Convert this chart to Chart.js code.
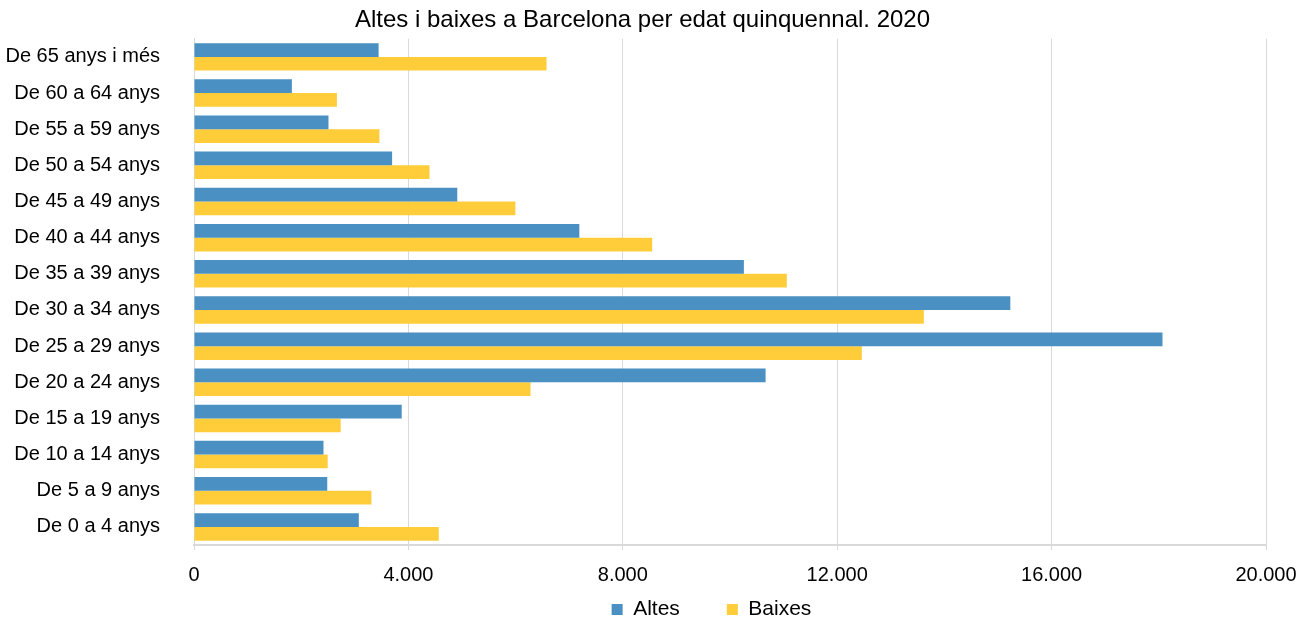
<!DOCTYPE html>
<html>
<head>
<meta charset="utf-8">
<script src="https://cdn.jsdelivr.net/npm/chart.js@4.4.1/dist/chart.umd.min.js"></script>
<style>
html,body{margin:0;padding:0;background:#fff;}
#wrap{width:1315px;height:618px;position:relative;}
</style>
</head>
<body>
<div id="wrap"><canvas id="c"></canvas></div>
<script>
const categories = ["De 65 anys i més","De 60 a 64 anys","De 55 a 59 anys","De 50 a 54 anys","De 45 a 49 anys","De 40 a 44 anys","De 35 a 39 anys","De 30 a 34 anys","De 25 a 29 anys","De 20 a 24 anys","De 15 a 19 anys","De 10 a 14 anys","De 5 a 9 anys","De 0 a 4 anys"];
const altes  = [3444, 1826, 2509, 3696, 4912, 7189, 10259, 15230, 18069, 10664, 3875, 2416, 2486, 3075];
const baixes = [6577, 2666, 3459, 4394, 5996, 8548, 11060, 13616, 12459, 6278, 2737, 2494, 3310, 4567];
const seriesNames = ["Altes", "Baixes"];
const titleText = "Altes i baixes a Barcelona per edat quinquennal. 2020";

const FONT = "'Liberation Sans', Arial, sans-serif";
Chart.defaults.font.family = FONT;
Chart.defaults.color = "#000";

const LEGEND_H = 31;
const LEGEND_DX = 69;

const tweak = {
  id: 'tweak',
  beforeInit(chart) {
    const lg = chart.legend;
    if (lg) {
      const f = lg.fit;
      lg.fit = function () { f.call(this); this.height = LEGEND_H; };
    }
  },
  afterLayout(chart) {
    const lg = chart.legend;
    if (lg) { lg.left += LEGEND_DX; lg.right += LEGEND_DX; }
  }
};

new Chart(document.getElementById('c'), {
  type: 'bar',
  data: {
    labels: categories,
    datasets: [
      { label: seriesNames[0], data: altes, backgroundColor: '#4A90C3', borderWidth: 0,
        categoryPercentage: 0.76, barPercentage: 1.0 },
      { label: seriesNames[1], data: baixes, backgroundColor: '#FFCD3A', borderWidth: 0,
        categoryPercentage: 0.76, barPercentage: 1.0 }
    ]
  },
  plugins: [tweak],
  options: {
    indexAxis: 'y',
    responsive: true,
    maintainAspectRatio: false,
    animation: false,
    layout: { padding: { left: 0, right: 30, top: 0, bottom: 0 } },
    plugins: {
      title: { display: true, text: titleText, color: '#000',
        font: { size: 24, weight: 'normal' }, padding: { top: 6, bottom: 4 } },
      legend: { position: 'bottom',
        labels: { boxWidth: 11, boxHeight: 11, padding: 12, color: '#000',
          font: { size: 21 },
          generateLabels: (chart) => {
            const items = Chart.defaults.plugins.legend.labels.generateLabels(chart);
            if (items.length) items[0].text = items[0].text + '      ';
            return items;
          } } },
      tooltip: { enabled: false }
    },
    scales: {
      x: {
        min: 0, max: 20000,
        ticks: { stepSize: 4000, color: '#000', font: { size: 20 }, padding: 13,
          callback: v => String(v).replace(/\B(?=(\d{3})+(?!\d))/g, '.') },
        grid: { color: '#d9d9d9', lineWidth: 1, drawTicks: true, tickLength: 5 },
        border: { color: '#d9d9d9', width: 2 },
        afterFit: (s) => { s.paddingRight = 49; s.height = 42; }
      },
      y: {
        ticks: { color: '#000', font: { size: 20 }, padding: 34, autoSkip: false },
        grid: { display: false, drawTicks: false },
        border: { color: '#d9d9d9', width: 1 },
        afterFit: (s) => { s.width = 194; s.paddingTop = 0; s.paddingBottom = 0; }
      }
    }
  }
});
</script>
</body>
</html>
